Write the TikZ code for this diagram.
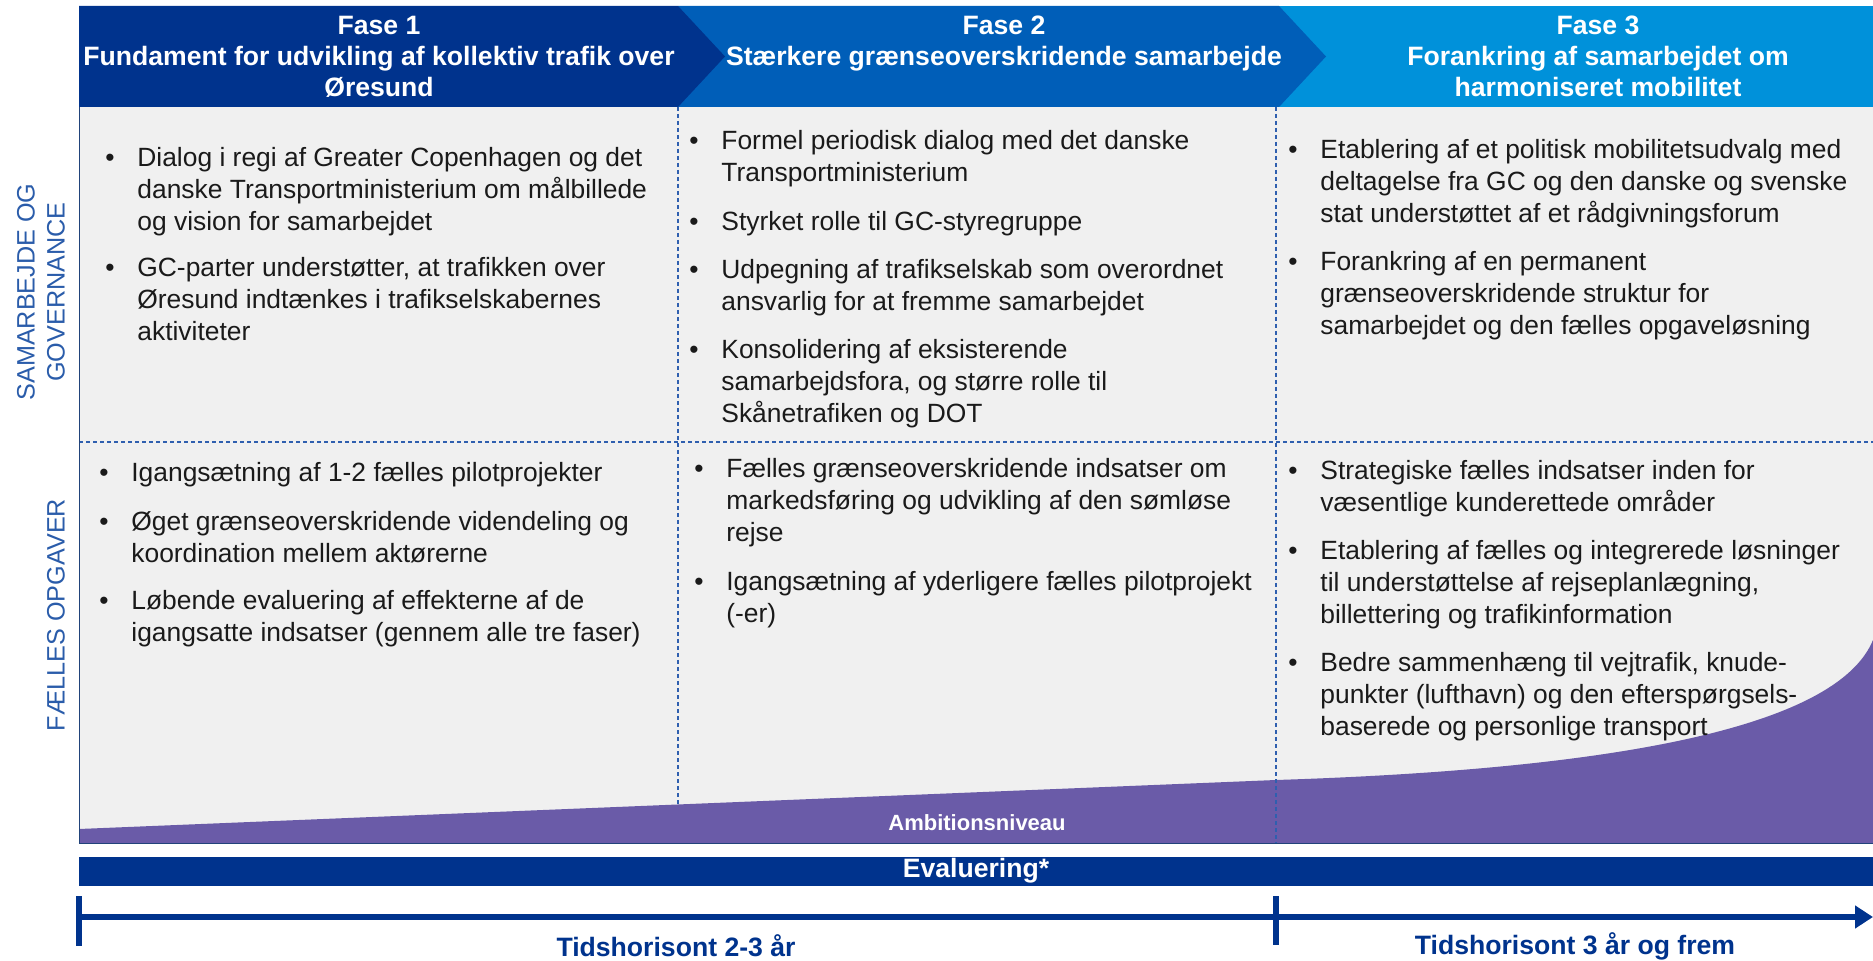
\documentclass[tikz,border=0pt]{standalone}
\usepackage{fontspec}
\setmainfont{Liberation Sans}
\usetikzlibrary{arrows.meta}
\definecolor{fase1}{HTML}{00338D}
\definecolor{fase2}{HTML}{005EB8}
\definecolor{fase3}{HTML}{0091DA}
\definecolor{ambition}{HTML}{6A5BA8}
\definecolor{felt}{HTML}{F0F0F0}
\definecolor{streg}{HTML}{2F5FAF}
\definecolor{tekst}{HTML}{1A1A1A}
\definecolor{etiketblaa}{HTML}{2A5CAA}
\newcommand{\pkt}[1]{\makebox[16pt][l]{\textbullet}\parbox[t]{280pt}{\raggedright\strut #1}}
\tikzstyle{punkt} = [anchor=north west, inner sep=0pt, text=tekst,
    font=\fontsize{13.2}{16}\selectfont]
\tikzstyle{fase} = [anchor=north, inner sep=0pt, align=center, text=white,
    font=\bfseries\fontsize{13.3}{15.5}\selectfont]
\tikzstyle{etiket} = [rotate=90, align=center, inner sep=0pt, text=etiketblaa,
    font=\fontsize{12.6}{15}\selectfont]
\tikzstyle{hvidtekst} = [inner sep=0pt, text=white, font=\bfseries\fontsize{13.3}{16}\selectfont]
\tikzstyle{tidtekst} = [inner sep=0pt, text=fase1, font=\bfseries\fontsize{13.3}{16}\selectfont]
\tikzstyle{skillelinje} = [draw=streg, line width=0.6pt, dash pattern=on 2pt off 1.5pt]
\tikzstyle{tidslinje} = [draw=fase1, line width=3pt, -{Triangle[length=9pt,width=11pt]}]
\tikzstyle{markering} = [draw=fase1, line width=3pt]

\begin{document}
\begin{tikzpicture}[x=0.5pt, y=-0.5pt]
    \useasboundingbox (0,0) rectangle (1873,961);

    \fill[felt] (79,107) rectangle (1873,843);
    \path[skillelinje] (678,107) -- (678,808);
    \path[skillelinje] (79,442) -- (1873,442);
    \fill[ambition] (79,829) -- (1276,780) .. controls (1650,768) and (1840,720) .. (1873,640)
        -- (1873,843) -- (79,843) -- cycle;
    \path[skillelinje] (1276,107) -- (1276,843);
    \draw[streg!70!black, line width=0.5pt] (79,107) -- (79,843) -- (1873,843) -- (1873,107);

    \fill[fase3] (678,6) rectangle (1873,107);
    \fill[fase2] (678,6) -- (1279,6) -- (1326,56.5) -- (1279,107) -- (678,107) -- cycle;
    \fill[fase1] (79,6) -- (678,6) -- (725,56.5) -- (678,107) -- (79,107) -- cycle;

    \node[fase] (fase1) at (379,12) {\strut Fase 1\\Fundament for udvikling af kollektiv trafik over\\Øresund};
    \node[fase] (fase2) at (1004,12) {\strut Fase 2\\Stærkere grænseoverskridende samarbejde};
    \node[fase] (fase3) at (1598,12) {\strut Fase 3\\Forankring af samarbejdet om\\harmoniseret mobilitet};

    \node[etiket] (samarbejde) at (41,292) {SAMARBEJDE OG\\GOVERNANCE};
    \node[etiket] (opgaver) at (56,615) {FÆLLES OPGAVER};

    \node[punkt] (s1a) at (105,144) {\pkt{Dialog i regi af Greater Copenhagen og det\\danske Transportministerium om målbillede\\og vision for samarbejdet}};
    \node[punkt] (s1b) at (105,254) {\pkt{GC-parter understøtter, at trafikken over\\Øresund indtænkes i trafikselskabernes\\aktiviteter}};
    \node[punkt] (o1a) at (99,459) {\pkt{Igangsætning af 1-2 fælles pilotprojekter}};
    \node[punkt] (o1b) at (99,508) {\pkt{Øget grænseoverskridende videndeling og\\koordination mellem aktørerne}};
    \node[punkt] (o1c) at (99,587) {\pkt{Løbende evaluering af effekterne af de\\igangsatte indsatser (gennem alle tre faser)}};

    \node[punkt] (s2a) at (689,127) {\pkt{Formel periodisk dialog med det danske\\Transportministerium}};
    \node[punkt] (s2b) at (689,208) {\pkt{Styrket rolle til GC-styregruppe}};
    \node[punkt] (s2c) at (689,256) {\pkt{Udpegning af trafikselskab som overordnet\\ansvarlig for at fremme samarbejdet}};
    \node[punkt] (s2d) at (689,336) {\pkt{Konsolidering af eksisterende\\samarbejdsfora, og større rolle til\\Skånetrafiken og DOT}};
    \node[punkt] (o2a) at (694,455) {\pkt{Fælles grænseoverskridende indsatser om\\markedsføring og udvikling af den sømløse\\rejse}};
    \node[punkt] (o2b) at (694,568) {\pkt{Igangsætning af yderligere fælles pilotprojekt\\(-er)}};

    \node[punkt] (s3a) at (1288,136) {\pkt{Etablering af et politisk mobilitetsudvalg med\\deltagelse fra GC og den danske og svenske\\stat understøttet af et rådgivningsforum}};
    \node[punkt] (s3b) at (1288,248) {\pkt{Forankring af en permanent\\grænseoverskridende struktur for\\samarbejdet og den fælles opgaveløsning}};
    \node[punkt] (o3a) at (1288,457) {\pkt{Strategiske fælles indsatser inden for\\væsentlige kunderettede områder}};
    \node[punkt] (o3b) at (1288,537) {\pkt{Etablering af fælles og integrerede løsninger\\til understøttelse af rejseplanlægning,\\billettering og trafikinformation}};
    \node[punkt] (o3c) at (1288,649) {\pkt{Bedre sammenhæng til vejtrafik, knude-\\punkter (lufthavn) og den efterspørgsels-\\baserede og personlige transport}};

    \node[hvidtekst, font=\bfseries\fontsize{11}{13}\selectfont] (ambition) at (977,823) {Ambitionsniveau};

    \fill[fase1] (79,857) rectangle (1873,886);
    \node[hvidtekst] (evaluering) at (976,871) {Evaluering*};

    \coordinate (t0) at (79,917);
    \coordinate (t1) at (1276,917);
    \coordinate (tslut) at (1873,917);
    \path[tidslinje] (t0) -- (tslut);
    \path[markering] ([yshift=10.5pt]t0) -- ([yshift=-14.5pt]t0);
    \path[markering] ([yshift=10.5pt]t1) -- ([yshift=-14pt]t1);
    \node[tidtekst] (tid1) at (676,946) {Tidshorisont 2-3 år};
    \node[tidtekst] (tid2) at (1575,946) {Tidshorisont 3 år og frem};
\end{tikzpicture}
\end{document}
